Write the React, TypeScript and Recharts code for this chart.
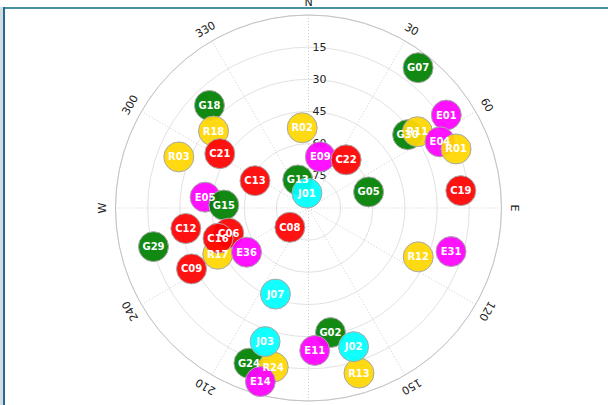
import React from "react";
import { RadarChart, PolarGrid, PolarAngleAxis, PolarRadiusAxis, Radar } from "recharts";

const names = ["G07","G18","G29","G13","G05","G30","G24","G02","E05","E09","E01","G15","R18","R03","R02","R17","R24","R12","R13","R11","E04","R01","C21","C13","C12","C06","C16","C09","C08","C19","C22","E36","E14","E11","E31","J01","J07","J03","J02"];
const azimuths = [38,316,256,339,75,53.5,201,170,276,13,56,272,309,291.5,355.5,243,192.5,114,163,55,63.3,68.2,301.5,297,260.5,252.5,251.5,242.5,224,83.5,38,234.5,195.5,177.5,107,354,201,198,162];
const elevations = [7,23.5,15.5,76,61,32.5,12.5,31,41.5,65.5,12.5,50.5,33,25,52.5,42.5,14,34,9.5,28,21.4,15.9,41.5,62,32,51,45.5,28.5,77.5,18.5,61.5,54.5,6,23.5,20.5,83,47,24.5,22];

const systemColors: Record<string, string> = { G: "#008000", R: "#ffd700", C: "#ff0000", E: "#ff00ff", J: "#00ffff" };

const angleTicks = [0,30,60,90,120,150,180,210,240,270,300,330];
const compassLabels: Record<number, string> = { 0: "N", 90: "E", 180: "S", 270: "W" };
const elevationTicks = [0,15,30,45,60,75,90];

const data = names.map((n, i) => ({ name: n, sys: n[0], az: azimuths[i], el: elevations[i] }));

const FONT = "'DejaVu Sans', sans-serif";

const getEntry = (p: any) => (p && p.payload && p.payload.payload ? p.payload.payload : p.payload);

const SatCircle = (props: any) => {
  const d = getEntry(props);
  if (!d || !isFinite(props.cx) || !isFinite(props.cy)) return <g key={props.key} />;
  return (
    <circle key={props.key} cx={props.cx} cy={props.cy} r={15} fill={systemColors[d.sys]} fillOpacity={0.93} stroke="#a8a8a8" strokeWidth={1} />
  );
};

const SatLabel = (props: any) => {
  const d = getEntry(props);
  if (!d || !isFinite(props.cx) || !isFinite(props.cy)) return <g key={props.key} />;
  return (
    <text key={props.key} x={props.cx} y={props.cy} textAnchor="middle" dominantBaseline="central" fill="#ffffff" fontFamily={FONT} fontWeight="bold" fontSize={10}>
      {d.name}
    </text>
  );
};

const AngleTick = (props: any) => {
  const { x, y, payload } = props;
  const v = payload.value;
  const label = compassLabels[v] ?? String(v);
  return (
    <text x={x} y={y} textAnchor="middle" dominantBaseline="central" fill="#222" fontFamily={FONT} fontSize={11} transform={`rotate(${v}, ${x}, ${y})`}>
      {label}
    </text>
  );
};

const RadiusTick = (props: any) => {
  const { x, y, payload } = props;
  const v = payload.value;
  if (v === 0 || v === 90) return <g />;
  return (
    <text x={x + 4} y={y} textAnchor="start" dominantBaseline="central" fill="#222" fontFamily={FONT} fontSize={11}>
      {v}
    </text>
  );
};

export default function App() {
  return (
    <div style={{ position: "fixed", left: 0, top: 0, width: 608, height: 405, background: "#fff", overflow: "hidden" }}>
      <div style={{ position: "absolute", left: 0, top: 7, width: 3, height: 398, background: "#d4dbe2" }} />
      <div style={{ position: "absolute", left: 3, top: 7, width: 605, height: 2, background: "#4a90a4" }} />
      <div style={{ position: "absolute", left: 3, top: 7, width: 2, height: 398, background: "#1f6e8c" }} />
      <div style={{ position: "absolute", left: 0, top: 0 }}>
        <RadarChart width={608} height={405} data={data} cx={308.5} cy={208} outerRadius={193} startAngle={90} endAngle={-270} margin={{ top: 0, right: 0, bottom: 0, left: 0 }}>
          <PolarGrid gridType="circle" radialLines={false} stroke="#e2e2e2" />
          <PolarGrid gridType="circle" radialLines={true} polarRadius={[0]} stroke="#cfcfcf" strokeDasharray="1 2" />
          <PolarAngleAxis dataKey="az" type="number" domain={[0, 360]} ticks={angleTicks} tick={<AngleTick />} tickLine={false} tickSize={13} axisLine={{ stroke: "#c4c4c4" }} axisLineType="circle" />
          <PolarRadiusAxis angle={90} type="number" domain={[0, 90]} ticks={elevationTicks} reversed axisLine={false} tickLine={false} tick={<RadiusTick />} />
          <Radar dataKey="el" stroke="none" fill="none" fillOpacity={0} dot={(p: any) => <SatCircle {...p} />} isAnimationActive={false} legendType="none" />
          <Radar dataKey="el" stroke="none" fill="none" fillOpacity={0} dot={(p: any) => <SatLabel {...p} />} isAnimationActive={false} legendType="none" />
        </RadarChart>
      </div>
    </div>
  );
}
